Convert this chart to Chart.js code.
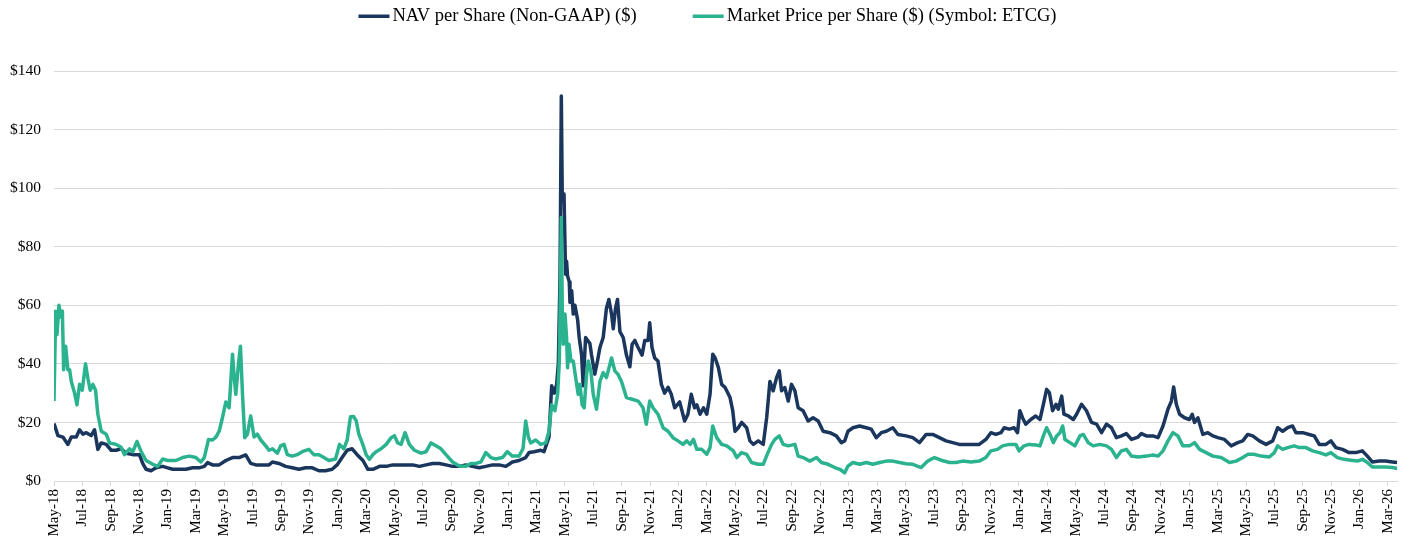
<!DOCTYPE html>
<html>
<head>
<meta charset="utf-8">
<title>NAV vs Market Price - ETCG</title>
<script src="https://cdn.jsdelivr.net/npm/chart.js@4.4.1/dist/chart.umd.min.js"></script>
<style>
  html, body { margin: 0; padding: 0; background: #fff; }
</style>
</head>
<body>
<canvas id="navChart" width="1409" height="541"></canvas>
<script>
// x = months since May-18, y = dollars per share
const navSeries = [
  [0,19.6],[0.28,15.5],[0.63,15],[0.98,12.5],[1.22,15],[1.57,15],[1.80,17.5],[2.04,16],[2.27,16.5],[2.62,15.5],
  [2.86,17.5],[3.09,10.8],[3.33,13],[3.68,12.5],[4.03,10.5],[4.38,10.5],[4.73,11],[5.08,9.5],[5.55,9],[6.02,9],
  [6.25,6],[6.49,4],[6.84,3.5],[7.19,4.5],[7.66,5],[8.01,4.5],[8.36,4],[8.83,4],[9.30,4],[9.77,4.5],
  [10.23,4.5],[10.59,5],[10.82,6.3],[11.17,5.5],[11.64,5.5],[12.11,7],[12.58,8],[13.04,8],[13.51,8.9],[13.86,6],
  [14.22,5.5],[14.68,5.5],[15.15,5.5],[15.39,6.5],[15.85,6],[16.32,5],[16.79,4.5],[17.26,4],[17.73,4.5],[18.20,4.5],
  [18.67,3.5],[19.13,3.5],[19.60,4],[19.95,5.5],[20.30,8],[20.66,10.5],[21.01,11],[21.36,9],[21.77,7],[22.12,4],
  [22.47,4],[22.94,5],[23.41,5],[23.87,5.5],[24.34,5.5],[24.81,5.5],[25.28,5.5],[25.75,5],[26.22,5.5],[26.68,6],
  [27.15,6],[27.62,5.5],[28.09,5],[28.56,5],[29.03,5.5],[29.49,5],[29.96,4.5],[30.43,5],[30.90,5.5],[31.37,5.5],
  [31.84,5],[32.30,6.5],[32.77,7],[33.24,8],[33.48,9.7],[33.83,10],[34.30,10.5],[34.53,10],[34.88,15],[35.07,32.5],
  [35.26,30],[35.42,33],[35.54,40],[35.66,70],[35.75,131.5],[35.82,95.7],[35.94,98],[36.05,70.6],[36.12,75],[36.19,70],
  [36.31,68],[36.36,61],[36.48,65],[36.59,57],[36.71,60],[36.90,55],[37.01,49],[37.18,43],[37.29,32.5],[37.46,49],
  [37.60,48],[37.76,47],[37.88,43],[38.11,36.5],[38.30,41],[38.47,45.6],[38.70,49],[38.93,59],[39.10,62],[39.29,57],
  [39.41,52],[39.57,59],[39.71,62],[39.88,51],[40.11,49],[40.34,43],[40.58,39],[40.74,46.7],[40.93,48],[41.16,45.6],
  [41.44,43],[41.63,48],[41.86,48],[41.98,54],[42.14,45.6],[42.33,42],[42.56,41],[42.80,33],[43.03,30],[43.27,32],
  [43.50,29.6],[43.74,25],[44.09,27],[44.44,20.5],[44.67,22.8],[44.91,29.6],[45.14,25],[45.30,26],[45.53,22.8],[45.77,25],
  [46.0,22.8],[46.23,29.6],[46.42,43.3],[46.59,42],[46.82,38.7],[47.05,33],[47.29,31.9],[47.64,28.5],[47.83,24],[47.99,17],
  [48.22,18.2],[48.46,20],[48.81,18.2],[49.04,13.7],[49.28,12.5],[49.63,13.7],[49.98,12.5],[50.22,21.6],[50.45,34],[50.68,30.8],
  [50.92,35.3],[51.11,37.6],[51.27,30.8],[51.50,31.9],[51.74,27.3],[51.97,33],[52.21,30.8],[52.44,25],[52.79,24],[53.14,20.5],
  [53.49,21.6],[53.85,20.5],[54.20,17],[54.67,16.5],[55.13,15.4],[55.48,13.1],[55.72,13.7],[55.95,17],[56.30,18.2],[56.77,18.8],
  [57.24,18.2],[57.59,17.7],[57.94,14.8],[58.30,16.5],[58.65,17],[59.11,18.2],[59.47,15.9],[60.05,15.4],[60.52,14.8],[60.99,13.1],
  [61.46,15.9],[61.92,15.9],[62.39,14.8],[62.86,13.7],[63.33,13.1],[63.80,12.5],[64.27,12.5],[64.74,12.5],[65.20,12.5],[65.67,14.2],
  [66.02,16.5],[66.37,15.9],[66.73,16.5],[66.96,18.2],[67.31,17.7],[67.66,18.2],[67.90,16.5],[68.06,24],[68.25,21.6],[68.48,19.4],
  [68.83,21],[69.18,22.2],[69.48,21],[69.72,26.2],[69.95,31.3],[70.14,30.2],[70.37,24],[70.61,26.2],[70.77,24.5],[71.01,29],
  [71.17,22.8],[71.48,22.2],[71.83,21],[72.06,22.8],[72.41,26.2],[72.76,24],[73.11,20],[73.47,19.4],[73.82,16.5],[74.17,19.4],
  [74.52,18.2],[74.87,14.8],[75.22,15.4],[75.57,16.2],[75.93,14.2],[76.39,15],[76.63,16.2],[76.98,15.4],[77.45,15.4],[77.80,14.8],
  [78.15,18.8],[78.50,24.5],[78.74,27.3],[78.90,32.1],[79.09,26.2],[79.32,22.8],[79.67,21.6],[80.02,21],[80.21,22.8],[80.37,20],
  [80.61,21.6],[80.96,15.9],[81.31,16.5],[81.66,15.4],[82.01,14.8],[82.48,14.2],[82.95,12],[83.42,13.1],[83.77,13.7],[84.12,15.9],
  [84.47,15.4],[84.94,13.7],[85.41,12.5],[85.88,13.7],[86.23,18.2],[86.58,17],[86.93,18.2],[87.28,18.8],[87.52,16.5],[87.99,16.5],
  [88.45,15.9],[88.81,15.4],[89.16,12.5],[89.63,12.5],[89.98,13.7],[90.33,11.4],[90.80,10.8],[91.26,9.7],[91.73,9.7],[92.20,10.3],
  [92.55,8.5],[92.90,6.5],[93.37,6.8],[93.84,6.8],[94.31,6.5],[94.66,6.3]
];

const marketSeries = [
  [0,27.3],[0.12,58],[0.21,50],[0.35,60],[0.47,56],[0.59,58],[0.68,38],[0.82,46],[0.98,38],[1.10,38],
  [1.22,34],[1.45,30],[1.62,26],[1.80,33],[1.99,31],[2.22,40],[2.39,35],[2.55,31],[2.74,33],[2.93,31],
  [3.09,22.8],[3.33,17],[3.68,16],[3.91,13],[4.38,12.5],[4.73,11.5],[4.96,9],[5.32,11],[5.55,10],[5.85,13.5],
  [6.14,10],[6.49,7],[6.96,5.7],[7.31,5],[7.66,7.5],[8.01,7],[8.59,7],[9.06,8],[9.53,8.5],[10.0,8],
  [10.35,6.5],[10.59,8],[10.89,14.2],[11.17,14],[11.41,15],[11.64,17],[11.87,21.6],[12.11,27],[12.34,25],[12.58,43.3],
  [12.69,36],[12.81,29.6],[13.0,40],[13.14,46],[13.28,30],[13.44,14.8],[13.63,16],[13.86,22.2],[14.1,15],[14.33,16],
  [14.57,14],[14.92,12],[15.15,10.5],[15.39,11],[15.74,9.5],[15.97,12],[16.21,12.5],[16.44,9],[16.79,8.5],[17.14,9],
  [17.49,10],[17.96,10.8],[18.31,9],[18.67,9],[19.02,8],[19.37,7],[19.84,7.5],[20.12,12.5],[20.42,11],[20.66,14],
  [20.89,21.9],[21.12,22],[21.30,20.5],[21.48,16],[21.72,13],[22.0,9],[22.23,7.4],[22.47,9],[22.70,10],[23.05,11],
  [23.41,12.5],[23.76,14.8],[23.99,15.5],[24.22,13],[24.46,12.5],[24.74,16.5],[25.04,12.5],[25.40,10.5],[25.86,9.5],[26.22,10],
  [26.57,13],[26.92,12],[27.27,11],[27.62,9],[28.09,6.5],[28.56,5.1],[29.03,5],[29.38,6],[29.73,6],[30.08,6.5],
  [30.43,9.7],[30.78,8],[31.13,7.5],[31.60,8],[31.95,10],[32.30,8.5],[32.77,8.5],[33.05,11],[33.24,20.5],[33.43,15],
  [33.59,13],[33.94,14],[34.30,12.5],[34.65,13],[34.88,17],[35.07,26],[35.30,24],[35.49,29.6],[35.61,41],[35.70,69.5],
  [35.75,90],[35.82,58],[35.89,46.7],[36.01,57],[36.12,49],[36.19,38.7],[36.29,46.7],[36.43,41],[36.59,41],[36.76,35.3],
  [36.94,29.6],[37.06,33],[37.22,26],[37.36,25],[37.53,36.4],[37.65,41],[37.83,37.6],[38.0,29.6],[38.23,24.5],[38.47,34],
  [38.70,37],[38.93,35.3],[39.29,42],[39.52,37.6],[39.75,36.4],[39.99,34],[40.34,28.5],[40.69,28],[41.16,27.3],[41.51,25],
  [41.74,19.4],[41.98,27.3],[42.21,25],[42.56,22.8],[42.92,18.2],[43.27,17],[43.62,14.8],[43.97,13.7],[44.32,12.5],[44.59,13.7],
  [44.83,12.5],[45.06,14.2],[45.30,10.8],[45.65,10.8],[46.0,9.1],[46.23,11.4],[46.42,18.8],[46.70,14.8],[47.05,12.5],[47.41,12],
  [47.87,10.3],[48.11,8],[48.46,9.7],[48.81,9.1],[49.16,6.3],[49.63,5.7],[49.98,5.7],[50.26,9.1],[50.57,12.5],[50.80,14.2],
  [51.11,15.4],[51.39,12.5],[51.74,12],[52.21,12.5],[52.44,8.5],[52.79,8],[53.26,6.8],[53.73,8],[54.08,6.3],[54.55,5.7],
  [55.02,4.6],[55.37,4],[55.72,2.8],[55.95,5.1],[56.30,6.3],[56.77,5.7],[57.24,6.3],[57.71,5.7],[58.18,6.3],[58.65,6.8],
  [59.11,6.8],[59.58,6.3],[60.05,5.9],[60.52,5.7],[61.11,4.6],[61.57,6.8],[62.04,8],[62.51,7.1],[63.10,6.3],[63.56,6.3],
  [64.03,6.8],[64.62,6.5],[65.20,6.8],[65.67,8],[66.02,10.3],[66.49,10.8],[66.84,12],[67.31,12.5],[67.78,12.5],[68.01,10.3],
  [68.36,12],[68.72,12.5],[69.18,12.3],[69.48,12],[69.72,15.4],[69.95,18.2],[70.19,15.9],[70.42,13.1],[70.66,15.4],[70.89,16.5],
  [71.08,18.8],[71.24,14.2],[71.59,13.1],[71.94,12],[72.30,15.4],[72.53,15.9],[72.88,13.1],[73.23,12],[73.70,12.5],[74.17,12],
  [74.52,10.8],[74.87,8],[75.22,10.3],[75.57,10.8],[75.93,8.5],[76.39,8.2],[76.98,8.5],[77.45,8.9],[77.80,8.5],[78.15,10.3],
  [78.50,13.7],[78.85,16.5],[79.20,15.4],[79.55,12],[80.02,12],[80.37,13.1],[80.73,10.8],[81.19,9.7],[81.66,8.5],[82.25,8],
  [82.83,6.3],[83.30,6.8],[83.77,8],[84.12,9.1],[84.59,9.1],[85.06,8.5],[85.64,8.2],[86.00,9.7],[86.23,12],[86.58,10.8],
  [86.93,11.4],[87.40,12],[87.75,11.4],[88.22,11.4],[88.69,10.3],[89.16,9.7],[89.63,8.9],[89.98,9.7],[90.44,8],[90.91,7.4],
  [91.38,7.1],[91.85,6.8],[92.20,7.4],[92.55,6.3],[92.90,4.8],[93.37,4.8],[93.84,4.8],[94.31,4.6],[94.66,4.3]
];

// one label every two months, starting at May-18 (month 0)
const tickLabels = [
  "May-18","Jul-18","Sep-18","Nov-18","Jan-19","Mar-19","May-19","Jul-19","Sep-19","Nov-19",
  "Jan-20","Mar-20","May-20","Jul-20","Sep-20","Nov-20","Jan-21","Mar-21","May-21","Jul-21",
  "Sep-21","Nov-21","Jan-22","Mar-22","May-22","Jul-22","Sep-22","Nov-22","Jan-23","Mar-23",
  "May-23","Jul-23","Sep-23","Nov-23","Jan-24","Mar-24","May-24","Jul-24","Sep-24","Nov-24",
  "Jan-25","Mar-25","May-25","Jul-25","Sep-25","Nov-25","Jan-26","Mar-26"
];

const seriesNames = ["NAV per Share (Non-GAAP) ($)", "Market Price per Share ($) (Symbol: ETCG)"];
const navColor = "#1b365d";
const mktColor = "#2bb38f";

const serif = "'Liberation Serif', 'Times New Roman', serif";
const gridColor = "#d9d9d9";

// legend drawn along the top, line swatch right next to the text
const topLegend = {
  id: "topLegend",
  afterDraw(chart) {
    const ctx = chart.ctx;
    const sets = chart.data.datasets;
    ctx.save();
    ctx.font = "18.5px " + serif;
    ctx.textBaseline = "middle";
    const lineW = 31, gap = 3, itemGap = 56;
    const widths = sets.map((d) => lineW + gap + ctx.measureText(d.label).width);
    const total = widths.reduce((a, b) => a + b, 0) + itemGap * (sets.length - 1);
    let x = (chart.width - total) / 2 + 3;
    const y = 16;
    sets.forEach((d, i) => {
      ctx.fillStyle = d.borderColor;
      ctx.fillRect(x, y - 1.5, lineW, 3.5);
      ctx.fillStyle = "#000";
      ctx.fillText(d.label, x + lineW + gap, y);
      x += widths[i] + itemGap;
    });
    ctx.restore();
  },
};

const ctx = document.getElementById("navChart").getContext("2d");
new Chart(ctx, {
  type: "line",
  data: {
    datasets: [
      {
        label: seriesNames[0],
        data: navSeries.map((p) => ({ x: p[0], y: p[1] })),
        borderColor: navColor,
        backgroundColor: navColor,
        borderWidth: 3.5,
        pointRadius: 0,
        tension: 0,
        borderJoinStyle: "round",
        order: 1,
      },
      {
        label: seriesNames[1],
        data: marketSeries.map((p) => ({ x: p[0], y: p[1] })),
        borderColor: mktColor,
        backgroundColor: mktColor,
        borderWidth: 3.5,
        pointRadius: 0,
        tension: 0,
        borderJoinStyle: "round",
        order: 0,
      },
    ],
  },
  options: {
    responsive: false,
    animation: false,
    devicePixelRatio: 1,
    layout: { padding: { top: 71, right: 11, left: 0, bottom: 0 } },
    plugins: {
      legend: { display: false },
      tooltip: { enabled: false },
    },
    scales: {
      x: {
        type: "linear",
        min: 0,
        max: 94.66,
        afterBuildTicks: (axis) => {
          axis.ticks = tickLabels.map((_, i) => ({ value: i * 2 }));
        },
        afterFit: (axis) => {
          axis.height = 60;
        },
        ticks: {
          autoSkip: false,
          minRotation: 90,
          maxRotation: 90,
          padding: 3,
          color: "#000",
          font: { family: serif, size: 15 },
          callback: (value, index) => tickLabels[index],
        },
        grid: {
          drawOnChartArea: false,
          drawTicks: true,
          tickLength: 5,
          color: gridColor,
        },
        border: { display: true, color: gridColor },
      },
      y: {
        min: 0,
        max: 140,
        afterFit: (axis) => {
          axis.width = 54;
        },
        ticks: {
          stepSize: 20,
          padding: 13,
          color: "#000",
          font: { family: serif, size: 15.5 },
          callback: (value) => "$" + value,
        },
        grid: { color: gridColor, drawTicks: false },
        border: { display: false },
      },
    },
  },
  plugins: [topLegend],
});
</script>
</body>
</html>
